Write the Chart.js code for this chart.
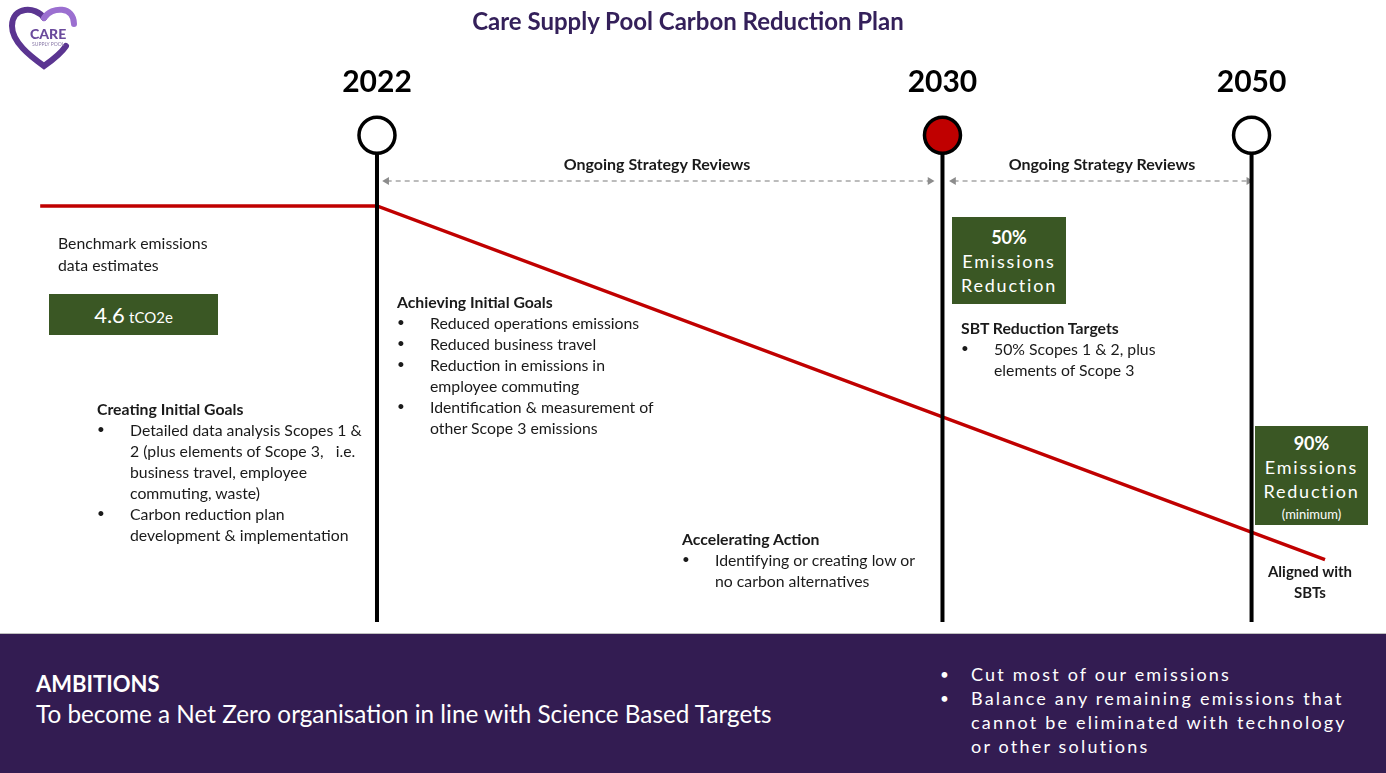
<!DOCTYPE html>
<html>
<head>
  <meta charset="utf-8">
  <title>Care Supply Pool Carbon Reduction Plan</title>
  <script src="https://cdn.jsdelivr.net/npm/chart.js"></script>
  <style>
    body { margin: 0; padding: 0; background: #fff; font-family: Lato, "Open Sans", sans-serif; color: #1a1a1a; }
    #wrap { position: relative; width: 1386px; height: 773px; overflow: hidden; }
    #plan { position: absolute; left: 0; top: 0; }
    .t { position: absolute; white-space: nowrap; font-size: 15.8px; line-height: 21px; }
    .t b { font-weight: 700; }
    .li { padding-left: 33px; position: relative; }
    .li:before { content: "\2022"; position: absolute; left: 0; font-size: 0.85em; }
    .year { position: absolute; top: 62px; font-size: 30px; font-weight: 700; color: #000; transform: translateX(-50%); }
    .review { position: absolute; top: 154px; font-size: 16px; font-weight: 700; transform: translateX(-50%); white-space: nowrap; }
    .box { position: absolute; background: #3a5724; color: #fff; text-align: center; }
    .box .sp { letter-spacing: 1.8px; font-size: 18px; line-height: 24px; }
    #band { position: absolute; left: 0; top: 633px; width: 1386px; height: 140px; background: #331c52; border-top: 1px solid #bfbfbf; color: #fff; }
  </style>
</head>
<body>
<div id="wrap">
  <canvas id="plan" width="1386" height="633"></canvas>

  <svg style="position:absolute;left:4px;top:4px" width="80" height="68" viewBox="0 0 80 68">
    <path d="M40 14 C32 2 8 2 8 22 C8 38 26 52 40 62 C50 55 58 48 62 42" fill="none" stroke="#5b3591" stroke-width="6" stroke-linecap="round"/>
    <path d="M40 14 C48 2 70 2 70 20" fill="none" stroke="#9b6fd0" stroke-width="6" stroke-linecap="round"/>
    <text x="26" y="35" font-family="Lato" font-weight="900" font-size="14" fill="#6a4a9c">CARE</text>
    <text x="28" y="42" font-family="Lato" font-size="5" fill="#8a7aa8">SUPPLY POOL</text>
  </svg>

  <div class="t" style="left:0;width:1376px;top:6px;text-align:center;font-size:24px;font-weight:700;color:#34205a;line-height:30px">Care Supply Pool Carbon Reduction Plan</div>

  <div id="years"></div>
  <div class="review" style="left:657px">Ongoing Strategy Reviews</div>
  <div class="review" style="left:1102px">Ongoing Strategy Reviews</div>

  <div class="t" style="left:58px;top:232px;line-height:22px">Benchmark emissions<br>data estimates</div>
  <div class="box" style="left:49px;top:294px;width:169px;height:41px;line-height:41px"><span style="font-size:22px">4.6</span> <span style="font-size:15px">tCO2e</span></div>

  <div class="t" style="left:97px;top:398px">
    <b>Creating Initial Goals</b>
    <div class="li">Detailed data analysis Scopes 1 &amp;<br>2 (plus elements of Scope 3,&nbsp;&nbsp; i.e.<br>business travel, employee<br>commuting, waste)</div>
    <div class="li">Carbon reduction plan<br>development &amp; implementation</div>
  </div>

  <div class="t" style="left:397px;top:291px">
    <b>Achieving Initial Goals</b>
    <div class="li">Reduced operations emissions</div>
    <div class="li">Reduced business travel</div>
    <div class="li">Reduction in emissions in<br>employee commuting</div>
    <div class="li">Identification &amp; measurement of<br>other Scope 3 emissions</div>
  </div>

  <div class="box" style="left:952px;top:217px;width:114px;height:87px;padding-top:8px;box-sizing:border-box">
    <div style="font-weight:700;font-size:18px;line-height:24px">50%</div>
    <div class="sp">Emissions</div>
    <div class="sp">Reduction</div>
  </div>

  <div class="t" style="left:961px;top:317px">
    <b>SBT Reduction Targets</b>
    <div class="li">50% Scopes 1 &amp; 2, plus<br>elements of Scope 3</div>
  </div>

  <div class="t" style="left:682px;top:528px">
    <b>Accelerating Action</b>
    <div class="li">Identifying or creating low or<br>no carbon alternatives</div>
  </div>

  <div class="box" style="left:1255px;top:426px;width:113px;height:99px;padding-top:5px;box-sizing:border-box">
    <div style="font-weight:700;font-size:18px;line-height:24px">90%</div>
    <div class="sp">Emissions</div>
    <div class="sp">Reduction</div>
    <div style="font-size:13px;line-height:22px">(minimum)</div>
  </div>

  <div class="t" style="left:1250px;width:120px;top:561px;text-align:center;font-weight:700;font-size:15px">Aligned with<br>SBTs</div>

  <div id="band">
    <div class="t" style="left:36px;top:36px;font-size:22px;line-height:28px;font-weight:700;color:#fff">AMBITIONS</div>
    <div class="t" style="left:36px;top:65px;font-size:24.3px;line-height:30px;color:#fff">To become a Net Zero organisation in line with Science Based Targets</div>
    <div class="t" style="left:940px;top:28px;font-size:18px;line-height:24px;letter-spacing:2.2px;color:#fff">
      <div class="li" style="padding-left:31px">Cut most of our emissions</div>
      <div class="li" style="padding-left:31px">Balance any remaining emissions that<br>cannot be eliminated with technology<br>or other solutions</div>
    </div>
  </div>
</div>

<script>
  // timeline positions are % of the slide width, levels are emissions index (2022 = 100)
  const milestoneYears = ['2022', '2030', '2050'];
  const milestonePos = [27.2, 68.0, 90.3];
  const milestoneFill = ['#ffffff', '#c00000', '#ffffff'];
  const markerLevel = 117;

  const pathPos = [2.9, 27.2, 95.6];
  const pathLevel = [100, 100, 15];

  const reviewFrom = [27.9, 68.8];
  const reviewTo = [67.1, 90.1];
  const reviewLevel = 106;

  const datasets = [];

  // milestone circles (on top)
  datasets.push({
    data: milestonePos.map(p => ({ x: p, y: markerLevel })),
    showLine: false,
    pointRadius: 18,
    pointBorderWidth: 3.5,
    pointBorderColor: '#000',
    pointBackgroundColor: milestoneFill,
    order: 0
  });

  // vertical stems
  milestonePos.forEach(p => {
    datasets.push({
      data: [{ x: p, y: markerLevel }, { x: p, y: 0 }],
      showLine: true,
      borderColor: '#000',
      borderWidth: 4,
      pointRadius: 0,
      order: 1
    });
  });

  // emissions path
  datasets.push({
    data: pathPos.map((p, i) => ({ x: p, y: pathLevel[i] })),
    showLine: true,
    borderColor: '#c00000',
    borderWidth: 3.5,
    pointRadius: 0,
    order: 2
  });

  // strategy review arrows
  reviewFrom.forEach((f, i) => {
    datasets.push({
      data: [{ x: f, y: reviewLevel }, { x: reviewTo[i], y: reviewLevel }],
      showLine: true,
      borderColor: '#a6a6a6',
      borderWidth: 1.5,
      borderDash: [5, 4],
      pointStyle: 'triangle',
      pointRadius: 4.5,
      pointRotation: [-90, 90],
      pointBackgroundColor: '#8c8c8c',
      pointBorderColor: '#8c8c8c',
      pointBorderWidth: 0,
      order: 3
    });
  });

  const ctx = document.getElementById('plan').getContext('2d');
  const chart = new Chart(ctx, {
    type: 'scatter',
    data: { datasets: datasets },
    options: {
      responsive: false,
      animation: false,
      devicePixelRatio: 1,
      layout: { padding: 0, autoPadding: false },
      plugins: { legend: { display: false }, tooltip: { enabled: false } },
      scales: {
        x: { type: 'linear', min: 0, max: 100, display: false },
        y: { type: 'linear', min: -2.64, max: 149.5, display: false }
      },
      elements: { line: { tension: 0 } }
    }
  });

  // year headings placed from the x scale
  const yearBox = document.getElementById('years');
  milestoneYears.forEach((y, i) => {
    const d = document.createElement('div');
    d.className = 'year';
    d.textContent = y;
    d.style.left = chart.scales.x.getPixelForValue(milestonePos[i]) + 'px';
    yearBox.appendChild(d);
  });
</script>
</body>
</html>
